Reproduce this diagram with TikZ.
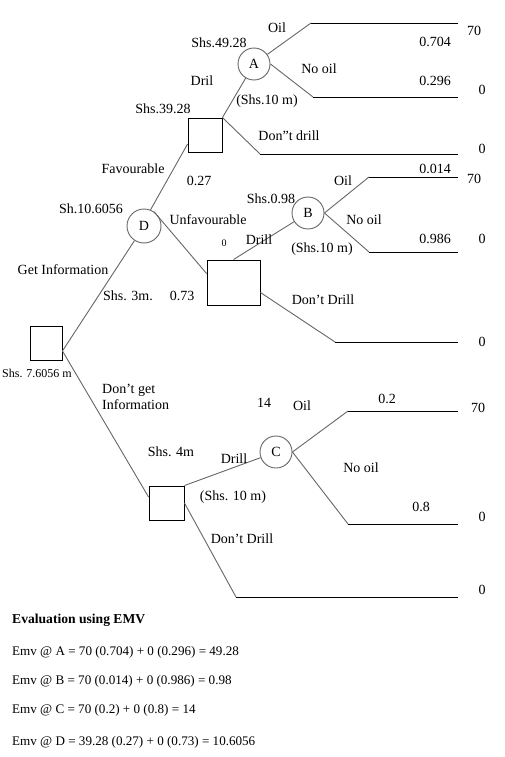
\documentclass[tikz,border=0pt]{standalone}
\usepackage{fontspec}
\setmainfont{Liberation Serif}
\usetikzlibrary{calc}
\tikzset{
  chance/.style={draw=black!60, line width=0.9pt, circle, minimum size=32pt, inner sep=0pt},
  decision/.style={draw=black, line width=0.9pt, rectangle, inner sep=0pt},
  branch/.style={draw=black!60, line width=0.9pt},
  payoff/.style={draw=black, line width=0.8pt},
  lbl/.style={font=\fontsize{14}{16}\selectfont, inner sep=0pt},
  small/.style={font=\fontsize{12}{14}\selectfont, inner sep=0pt},
  emv/.style={font=\fontsize{13.1}{15}\selectfont, inner sep=0pt, anchor=west},
}
\begin{document}
\begin{tikzpicture}[x=1pt, y=-1pt]
			\useasboundingbox (0,0) rectangle (505,757);

			% nodes of the tree
			\node[decision, minimum width=32pt, minimum height=34pt] (root) at (46,343) {};
			\node[chance, minimum size=34pt, lbl] (D) at (144,226) {D};
			\node[decision, minimum width=34pt, minimum height=34pt] (sqA) at (205,135) {};
			\node[decision, minimum width=53pt, minimum height=45pt] (sqB) at (233.5,282.5) {};
			\node[decision, minimum width=35pt, minimum height=34pt] (sqC) at (166.5,503) {};
			\node[chance, lbl] (A) at (254,64) {A};
			\node[chance, lbl] (B) at (308,213) {B};
			\node[chance, lbl] (C) at (276,452) {C};

			% bends and ends of the branches
			\coordinate (rootout) at ($(root.east)+(0,8)$);
			\coordinate (aoil) at (311,23);   \coordinate (aoilend) at (458,23);
			\coordinate (ano) at (313,97);    \coordinate (anoend) at (458,97);
			\coordinate (adont) at (260,154); \coordinate (adontend) at (458,154);
			\coordinate (boil) at (369,177);  \coordinate (boilend) at (458,177);
			\coordinate (bno) at (369,252);   \coordinate (bnoend) at (458,252);
			\coordinate (bdont) at (335,342); \coordinate (bdontend) at (458,342);
			\coordinate (coil) at (348,411);  \coordinate (coilend) at (458,411);
			\coordinate (cno) at (348,524);   \coordinate (cnoend) at (458,524);
			\coordinate (cdont) at (236,597); \coordinate (cdontend) at (458,597);

			% first stage
			\draw[branch] (rootout) -- (D);
			\draw[branch] (rootout) -- ($(sqC.west)+(0,-6)$);

			% second stage
			\draw[branch] (D.68) -- ($(sqA.west)+(0,9)$);
			\draw[branch] (D.55) -- ($(sqB.west)+(0,-9)$);

			% third stage
			\draw[branch] (sqA.north east) -- (A);
			\draw[branch] (sqA.north east) -- (adont);
			\draw[payoff] (adont) -- (adontend);
			\draw[branch] (sqB.north) -- (B);
			\draw[branch] ($(sqB.east)+(0,10)$) -- (bdont);
			\draw[payoff] (bdont) -- (bdontend);
			\draw[branch] (sqC.north east) -- (C);
			\draw[branch] (sqC.east) -- (cdont);
			\draw[payoff] (cdont) -- (cdontend);

			% oil or no oil
			\draw[branch] (A) -- (aoil);
			\draw[payoff] (aoil) -- (aoilend);
			\draw[branch] (A.east) -- (ano);
			\draw[payoff] (ano) -- (anoend);
			\draw[branch] (B.east) -- (boil);
			\draw[payoff] (boil) -- (boilend);
			\draw[branch] (B.east) -- (bno);
			\draw[payoff] (bno) -- (bnoend);
			\draw[branch] (C.east) -- (coil);
			\draw[payoff] (coil) -- (coilend);
			\draw[branch] (C.east) -- (cno);
			\draw[payoff] (cno) -- (cnoend);

			% labels, top part
			\node[lbl] (tOilA) at (277,28) {Oil};
			\node[lbl] (tEvA) at (219,43) {Shs.49.28};
			\node[lbl] (tPoilA) at (435,42) {0.704};
			\node[lbl] (tPayA1) at (474,31) {70};
			\node[lbl] (tNoA) at (319,69) {No oil};
			\node[lbl] (tPnoA) at (435,81) {0.296};
			\node[lbl] (tPayA2) at (482,90) {0};
			\node[lbl] (tDrilA) at (202,81) {Dril};
			\node[lbl] (tCostA) at (267,101) {(Shs.10 m)};
			\node[lbl] (tEvSqA) at (163,109) {Shs.39.28};
			\node[lbl] (tDontA) at (289,136) {Don"t drill};
			\node[lbl] (tPayA3) at (482,149) {0};
			\node[lbl] (tFav) at (133,169) {Favourable};
			\node[lbl] (tPfav) at (199,181) {0.27};

			% labels, middle part
			\node[lbl] (tPoilB) at (435,169) {0.014};
			\node[lbl] (tPayB1) at (474,179) {70};
			\node[lbl] (tOilB) at (343,181) {Oil};
			\node[lbl] (tEvB) at (271,199) {Shs.0.98};
			\node[lbl] (tEvD) at (91,209) {Sh.10.6056};
			\node[lbl] (tUnfav) at (208,220) {Unfavourable};
			\node[lbl] (tNoB) at (364,220) {No oil};
			\node[lbl] (tPnoB) at (435,239) {0.986};
			\node[lbl] (tPayB2) at (482,239) {0};
			\node[lbl] (tDrillB) at (259,240) {Drill};
			\node[font=\fontsize{10}{12}\selectfont, inner sep=0pt] (tZero) at (224,243) {0};
			\node[lbl] (tCostB) at (322,249) {(Shs.10 m)};
			\node[lbl] (tGet) at (63,270) {Get Information};
			\node[lbl] (tCostD) at (128,296) {Shs. 3m.};
			\node[lbl] (tPunfav) at (182,296) {0.73};
			\node[lbl] (tDontB) at (323,300) {Don’t Drill};
			\node[lbl] (tPayB3) at (482,342) {0};

			% labels, bottom part
			\node[small] (tEvRoot) at (37,373) {Shs. 7.6056 m};
			\node[lbl, anchor=west, align=left] (tNoGet) at (102,397) {Don’t get\\Information};
			\node[lbl] (tEvC) at (264,403) {14};
			\node[lbl] (tOilC) at (302,406) {Oil};
			\node[lbl] (tPoilC) at (387,399) {0.2};
			\node[lbl] (tPayC1) at (478,408) {70};
			\node[lbl] (tEvSqC) at (171,452) {Shs. 4m};
			\node[lbl] (tDrillC) at (234,459) {Drill};
			\node[lbl] (tNoC) at (361,468) {No oil};
			\node[lbl] (tCostC) at (233,497) {(Shs. 10 m)};
			\node[lbl] (tPnoC) at (421,507) {0.8};
			\node[lbl] (tPayC2) at (482,517) {0};
			\node[lbl] (tDontC) at (242,539) {Don’t Drill};
			\node[lbl] (tPayC3) at (482,590) {0};

			% evaluation
			\node[emv, font=\fontsize{13.6}{15}\selectfont\bfseries] (evHead) at (12,620) {Evaluation using EMV};
			\node[emv] (evA) at (12,652) {Emv @ A = 70 (0.704) + 0 (0.296) = 49.28};
			\node[emv] (evB) at (12,681) {Emv @ B = 70 (0.014) + 0 (0.986) = 0.98};
			\node[emv] (evC) at (12,710) {Emv @ C = 70 (0.2) + 0 (0.8) = 14};
			\node[emv] (evD) at (12,742) {Emv @ D = 39.28 (0.27) + 0 (0.73) = 10.6056};

		\end{tikzpicture}
\end{document}
